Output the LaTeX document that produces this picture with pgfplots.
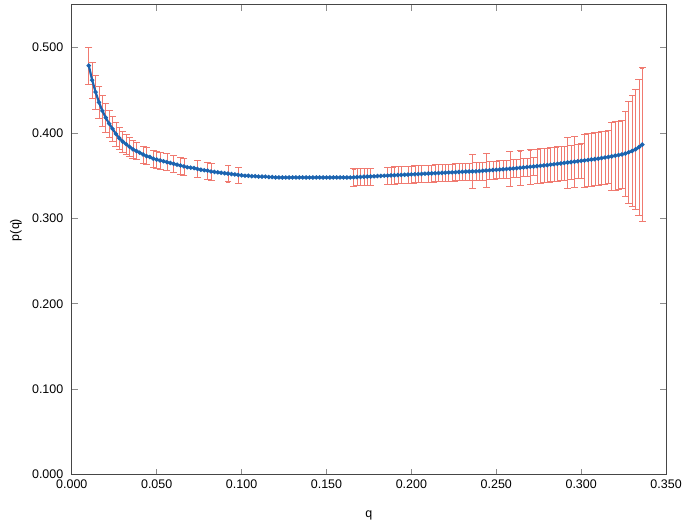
\documentclass[border=0pt]{standalone}
\usepackage{fontspec}
\setmainfont{Liberation Sans}
\usepackage{pgfplots}
\usepackage{pgfplotstable}
\pgfplotsset{compat=1.18}
\definecolor{lineblue}{RGB}{28,100,176}
\definecolor{markblue}{RGB}{18,78,145}
\definecolor{errred}{RGB}{240,122,112}
\definecolor{axgray}{RGB}{70,70,70}
\definecolor{tickgray}{RGB}{140,140,140}

\pgfplotstableread{
q p
0.010 0.479
0.012 0.462
0.014 0.448
0.016 0.436
0.018 0.426
0.020 0.418
0.022 0.411
0.024 0.405
0.026 0.399
0.028 0.394
0.030 0.390
0.032 0.387
0.034 0.384
0.036 0.381
0.038 0.379
0.040 0.377
0.042 0.375
0.044 0.373
0.046 0.372
0.048 0.370
0.050 0.369
0.052 0.368
0.054 0.367
0.056 0.366
0.058 0.365
0.060 0.364
0.062 0.363
0.064 0.362
0.066 0.361
0.068 0.360
0.070 0.3595
0.072 0.359
0.074 0.358
0.076 0.357
0.078 0.3565
0.080 0.356
0.082 0.355
0.084 0.3545
0.086 0.354
0.088 0.3535
0.090 0.353
0.092 0.3525
0.094 0.352
0.096 0.3515
0.098 0.351
0.100 0.3505
0.102 0.350
0.104 0.350
0.106 0.3495
0.108 0.3495
0.110 0.349
0.112 0.349
0.114 0.349
0.116 0.3485
0.118 0.3485
0.120 0.348
0.122 0.348
0.124 0.348
0.126 0.348
0.128 0.348
0.130 0.348
0.132 0.348
0.134 0.348
0.136 0.348
0.138 0.348
0.140 0.348
0.142 0.348
0.144 0.348
0.146 0.348
0.148 0.348
0.150 0.348
0.152 0.348
0.154 0.348
0.156 0.348
0.158 0.348
0.160 0.348
0.162 0.348
0.164 0.348
0.166 0.3482
0.168 0.3484
0.170 0.3486
0.172 0.3488
0.174 0.349
0.176 0.3492
0.178 0.3494
0.180 0.3496
0.182 0.3498
0.184 0.350
0.186 0.3502
0.188 0.3504
0.190 0.3506
0.192 0.3508
0.194 0.351
0.196 0.3512
0.198 0.3514
0.200 0.3516
0.202 0.3518
0.204 0.352
0.206 0.3522
0.208 0.3524
0.210 0.3526
0.212 0.3528
0.214 0.353
0.216 0.3532
0.218 0.3534
0.220 0.3536
0.222 0.3538
0.224 0.354
0.226 0.3542
0.228 0.3544
0.230 0.3546
0.232 0.3548
0.234 0.355
0.236 0.3551
0.238 0.3552
0.240 0.3555
0.242 0.3558
0.244 0.3561
0.246 0.3564
0.248 0.3567
0.250 0.357
0.252 0.3573
0.254 0.3576
0.256 0.3579
0.258 0.3582
0.260 0.3585
0.262 0.3589
0.264 0.3593
0.266 0.3597
0.268 0.3601
0.270 0.3605
0.272 0.3609
0.274 0.3613
0.276 0.3617
0.278 0.3621
0.280 0.3625
0.282 0.363
0.284 0.3635
0.286 0.364
0.288 0.3645
0.290 0.365
0.292 0.3655
0.294 0.366
0.296 0.3665
0.298 0.367
0.300 0.3675
0.302 0.368
0.304 0.3685
0.306 0.369
0.308 0.3695
0.310 0.370
0.312 0.3707
0.314 0.3714
0.316 0.372
0.318 0.3727
0.320 0.3735
0.322 0.3742
0.324 0.375
0.326 0.376
0.328 0.3775
0.330 0.379
0.332 0.381
0.334 0.3835
0.336 0.3865
}\curvetab

\pgfplotstableread{
q p e
0.010 0.479 0.022
0.012 0.462 0.021
0.014 0.448 0.020
0.016 0.436 0.019
0.018 0.426 0.018
0.020 0.418 0.017
0.022 0.411 0.016
0.024 0.405 0.015
0.026 0.399 0.014
0.028 0.394 0.013
0.030 0.390 0.012
0.032 0.387 0.012
0.034 0.384 0.011
0.036 0.381 0.011
0.038 0.379 0.010
0.042 0.375 0.010
0.044 0.373 0.010
0.048 0.370 0.010
0.050 0.369 0.010
0.052 0.368 0.010
0.056 0.366 0.010
0.060 0.364 0.010
0.064 0.362 0.010
0.066 0.361 0.010
0.074 0.358 0.010
0.080 0.356 0.010
0.082 0.355 0.010
0.092 0.3525 0.0095
0.098 0.351 0.0095
0.166 0.3482 0.010
0.168 0.3484 0.010
0.170 0.3486 0.010
0.172 0.3488 0.010
0.174 0.349 0.010
0.176 0.3492 0.010
0.186 0.3502 0.010
0.188 0.3504 0.010
0.190 0.3506 0.010
0.192 0.3508 0.010
0.194 0.351 0.010
0.198 0.3514 0.010
0.200 0.3516 0.010
0.202 0.3518 0.010
0.204 0.352 0.010
0.206 0.3522 0.010
0.210 0.3526 0.010
0.212 0.3528 0.010
0.214 0.353 0.010
0.216 0.3532 0.010
0.218 0.3534 0.010
0.220 0.3536 0.010
0.222 0.3538 0.010
0.224 0.354 0.010
0.226 0.3542 0.010
0.228 0.3544 0.010
0.230 0.3546 0.010
0.232 0.3548 0.010
0.234 0.355 0.010
0.236 0.3551 0.020
0.238 0.3552 0.0105
0.240 0.3555 0.0105
0.242 0.3558 0.0105
0.244 0.3561 0.020
0.246 0.3564 0.0105
0.248 0.3567 0.0105
0.250 0.357 0.0105
0.252 0.3573 0.0105
0.254 0.3576 0.0105
0.256 0.3579 0.0105
0.258 0.3582 0.020
0.260 0.3585 0.0105
0.262 0.3589 0.0105
0.264 0.3593 0.020
0.266 0.3597 0.0105
0.268 0.3601 0.0105
0.270 0.3605 0.020
0.272 0.3609 0.0105
0.274 0.3613 0.020
0.276 0.3617 0.020
0.278 0.3621 0.020
0.280 0.3625 0.020
0.282 0.363 0.020
0.284 0.3635 0.020
0.286 0.364 0.020
0.288 0.3645 0.020
0.290 0.365 0.020
0.292 0.3655 0.030
0.294 0.366 0.020
0.296 0.3665 0.030
0.298 0.367 0.020
0.300 0.3675 0.020
0.302 0.368 0.031
0.304 0.3685 0.031
0.306 0.369 0.031
0.308 0.3695 0.031
0.310 0.370 0.031
0.312 0.3707 0.031
0.314 0.3714 0.031
0.316 0.372 0.031
0.318 0.3727 0.040
0.320 0.3735 0.040
0.322 0.3742 0.040
0.324 0.375 0.040
0.326 0.376 0.050
0.328 0.3775 0.060
0.330 0.379 0.065
0.332 0.381 0.070
0.334 0.3835 0.080
0.336 0.3865 0.090
}\errtab

\begin{document}
\begin{tikzpicture}
\begin{axis}[
  scale only axis,
  width=596pt, height=471pt,
  xmin=0, xmax=0.35, ymin=0, ymax=0.55,
  xtick={0,0.05,0.1,0.15,0.2,0.25,0.3,0.35},
  ytick={0,0.1,0.2,0.3,0.4,0.5},
  /pgf/number format/.cd, fixed, fixed zerofill, precision=3, assume math mode=true,
  /pgfplots/.cd,
  scaled ticks=false,
  tick align=inside,
  major tick length=6pt,
  axis line style={draw=axgray, line width=1pt},
  tick style={draw=tickgray, line width=0.9pt},
  tick label style={font=\fontsize{12.5}{14}\selectfont, text=black},
  label style={font=\fontsize{12.5}{14}\selectfont},
  xlabel={q}, ylabel={p(q)},
  xticklabel style={yshift=-1.5pt},
  yticklabel style={xshift=-5pt},
  xlabel style={at={(axis description cs:0.5,-0.087)}, anchor=center},
  ylabel style={at={(axis description cs:-0.094,0.521)}, anchor=center},
  clip=false,
]
% vertical error bars
\addplot[errred, line width=0.55pt, draw=none, mark=none, forget plot,
  error bars/.cd, y dir=both, y explicit,
  error bar style={draw=errred, line width=0.55pt, solid}]
  table[x=q, y=p, y error=e] {\errtab};
% caps at the ends of the error bars
\addplot[errred, line width=0.55pt, only marks, mark=-, mark size=3.5pt, forget plot]
  table[x=q, y expr=\thisrow{p}+\thisrow{e}] {\errtab};
\addplot[errred, line width=0.55pt, only marks, mark=-, mark size=3.5pt, forget plot]
  table[x=q, y expr=\thisrow{p}-\thisrow{e}] {\errtab};
% curve
\addplot[color=lineblue, line width=2.2pt, mark=*, mark size=0.9pt,
  mark options={fill=markblue, draw=none}]
  table[x=q, y=p] {\curvetab};
\end{axis}
\path (current axis.south west) ++(-72pt,-50pt);
\path (current axis.north east) ++(17pt,5pt);
\end{tikzpicture}
\end{document}
